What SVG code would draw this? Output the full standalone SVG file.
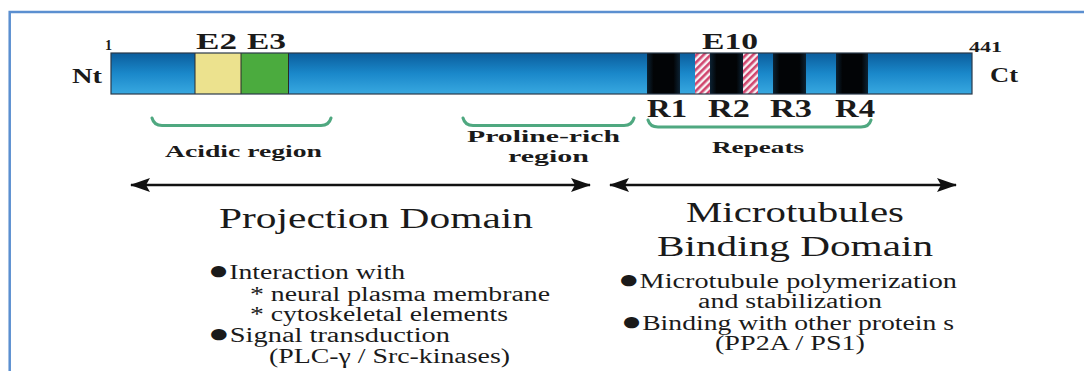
<svg xmlns="http://www.w3.org/2000/svg" width="1084" height="371" viewBox="0 0 1084 371">
<defs>
<linearGradient id="barG" x1="0" y1="0" x2="0" y2="1">
<stop offset="0" stop-color="#0b5d9c"/>
<stop offset="0.5" stop-color="#1a88ca"/>
<stop offset="1" stop-color="#38a8e0"/>
</linearGradient>
<linearGradient id="blkG" x1="0" y1="0" x2="1" y2="0">
<stop offset="0" stop-color="#0c2233"/>
<stop offset="0.2" stop-color="#020406"/>
<stop offset="0.8" stop-color="#020406"/>
<stop offset="1" stop-color="#0c2233"/>
</linearGradient>
<pattern id="hatch" width="5" height="5" patternUnits="userSpaceOnUse" patternTransform="rotate(45)">
<rect width="5" height="5" fill="#f6f0f3"/>
<rect width="2.6" height="5" fill="#d0456e"/>
</pattern>
<marker id="ah" viewBox="0 0 20 14" refX="19" refY="7" markerWidth="20" markerHeight="14" markerUnits="userSpaceOnUse" orient="auto-start-reverse">
<path d="M0,0 L20,7 L0,14 L4,7 Z" fill="#111"/>
</marker>
<style>
.b{font-family:"Liberation Serif","Times New Roman",serif;font-weight:bold;fill:#1a1a1a}
.t{font-family:"Liberation Serif","Times New Roman",serif;fill:#1a1a1a}
.bu{font-size:26px}
.br{fill:none;stroke:#4fa880;stroke-width:3;stroke-linecap:round}
.ar{stroke:#111;stroke-width:2.6;fill:none}
</style>
</defs>
<rect width="1084" height="371" fill="#ffffff"/>
<path d="M9.7,371 V12 H1084" fill="none" stroke="#5b8fd0" stroke-width="2.5"/>

<g id="protein-bar">
<rect x="111" y="53" width="861" height="41" fill="url(#barG)"/>
<rect x="195" y="53" width="46" height="41" fill="#ece28e"/>
<rect x="241" y="53" width="47.5" height="41" fill="#4bab3e"/>
<rect x="647" y="53" width="33" height="41" fill="url(#blkG)"/>
<rect x="695" y="53" width="15" height="41" fill="url(#hatch)"/>
<rect x="710" y="53" width="33" height="41" fill="url(#blkG)"/>
<rect x="743" y="53" width="15" height="41" fill="url(#hatch)"/>
<rect x="773" y="53" width="33" height="41" fill="url(#blkG)"/>
<rect x="836" y="53" width="32" height="41" fill="url(#blkG)"/>
<path d="M195,53 V94 M241,53 V94 M288.5,53 V94" stroke="#2a2a2a" stroke-width="1"/>
<rect x="111" y="53" width="861" height="41" fill="none" stroke="#2a3a4a" stroke-width="1.2"/>
<text class="b" x="105" y="50" font-size="14">1</text>
<text class="b" x="72" y="83" font-size="22" textLength="30" lengthAdjust="spacingAndGlyphs">Nt</text>
<text class="b" x="196" y="49" font-size="23" textLength="41" lengthAdjust="spacingAndGlyphs">E2</text>
<text class="b" x="247" y="49" font-size="23" textLength="39" lengthAdjust="spacingAndGlyphs">E3</text>
<text class="b" x="702" y="49" font-size="23" textLength="56" lengthAdjust="spacingAndGlyphs">E10</text>
<text class="b" x="969" y="52" font-size="14" textLength="33" lengthAdjust="spacingAndGlyphs">441</text>
<text class="b" x="990" y="82" font-size="21" textLength="28" lengthAdjust="spacingAndGlyphs">Ct</text>
<text class="b" x="647" y="117" font-size="25" textLength="40" lengthAdjust="spacingAndGlyphs">R1</text>
<text class="b" x="708" y="117" font-size="25" textLength="42" lengthAdjust="spacingAndGlyphs">R2</text>
<text class="b" x="770" y="117" font-size="25" textLength="42" lengthAdjust="spacingAndGlyphs">R3</text>
<text class="b" x="835" y="117" font-size="25" textLength="40" lengthAdjust="spacingAndGlyphs">R4</text>
</g>

<g id="acidic-region">
<path class="br" d="M152,118 Q154,125.5 162,125.5 H321 Q329,125.5 331,118"/>
<text class="b" x="165" y="157" font-size="16" textLength="157" lengthAdjust="spacingAndGlyphs">Acidic region</text>
</g>
<g id="proline-region">
<path class="br" d="M463,118 Q465,125.5 473,125.5 H624 Q632,125.5 634,118"/>
<text class="b" x="467" y="142" font-size="16" textLength="153" lengthAdjust="spacingAndGlyphs">Proline-rich</text>
<text class="b" x="508" y="162" font-size="16" textLength="81" lengthAdjust="spacingAndGlyphs">region</text>
</g>
<g id="repeats-region">
<path class="br" d="M648,120 Q650,127 658,127 H861 Q869,127 871,120"/>
<text class="b" x="712" y="153" font-size="16" textLength="92" lengthAdjust="spacingAndGlyphs">Repeats</text>
</g>

<g id="connectors">
<line class="ar" x1="131" y1="185" x2="590" y2="185" marker-start="url(#ah)" marker-end="url(#ah)"/>
<line class="ar" x1="610" y1="185" x2="956" y2="185" marker-start="url(#ah)" marker-end="url(#ah)"/>
</g>

<g id="projection-domain">
<text class="t" x="219" y="228" font-size="29" textLength="314" lengthAdjust="spacingAndGlyphs">Projection Domain</text>
<text class="t" x="208" y="279" font-size="20.5" textLength="197" lengthAdjust="spacingAndGlyphs"><tspan class="bu">●</tspan>Interaction with</text>
<text class="t" x="250" y="301" font-size="20.5" textLength="300" lengthAdjust="spacingAndGlyphs">* neural plasma membrane</text>
<text class="t" x="250" y="321" font-size="20.5" textLength="258" lengthAdjust="spacingAndGlyphs">* cytoskeletal elements</text>
<text class="t" x="208" y="342" font-size="20.5" textLength="242" lengthAdjust="spacingAndGlyphs"><tspan class="bu">●</tspan>Signal  transduction</text>
<text class="t" x="269" y="363" font-size="20.5" textLength="241" lengthAdjust="spacingAndGlyphs">(PLC-γ / Src-kinases)</text>
</g>

<g id="binding-domain">
<text class="t" x="686" y="222" font-size="29" textLength="218" lengthAdjust="spacingAndGlyphs">Microtubules</text>
<text class="t" x="657" y="256" font-size="29" textLength="276" lengthAdjust="spacingAndGlyphs">Binding Domain</text>
<text class="t" x="618" y="288" font-size="20.5" textLength="339" lengthAdjust="spacingAndGlyphs"><tspan class="bu">●</tspan>Microtubule  polymerization</text>
<text class="t" x="698" y="308" font-size="20.5" textLength="184" lengthAdjust="spacingAndGlyphs">and stabilization</text>
<text class="t" x="621" y="330" font-size="20.5" textLength="333" lengthAdjust="spacingAndGlyphs"><tspan class="bu">●</tspan>Binding with other protein s</text>
<text class="t" x="715" y="350" font-size="20.5" textLength="150" lengthAdjust="spacingAndGlyphs">(PP2A / PS1)</text>
</g>
</svg>
